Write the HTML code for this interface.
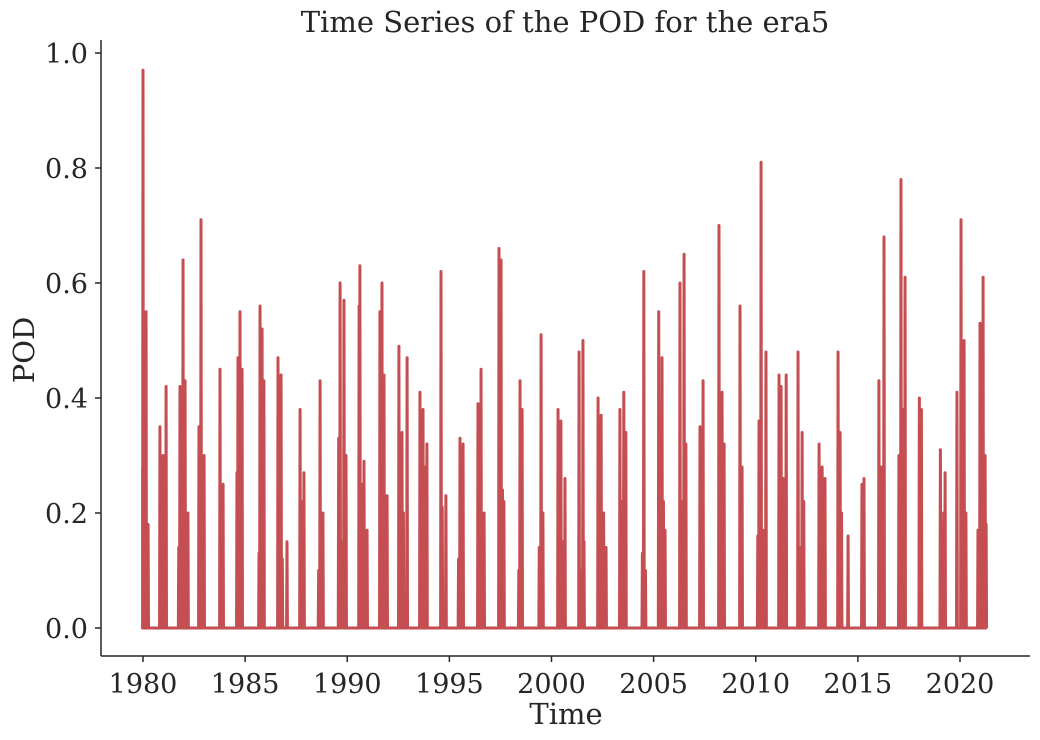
<!DOCTYPE html>
<html><head><meta charset="utf-8"><style>
body{margin:0;background:#fff;}
svg{display:block;font-family:"DejaVu Serif","Liberation Serif",serif;}
</style></head><body>
<svg id="chart" width="1040" height="740" viewBox="0 0 1040 740">
<rect width="1040" height="740" fill="#fff"/>
<text x="565" y="32" text-anchor="middle" font-size="29" fill="#262626">Time Series of the POD for the era5</text>
<g id="xticks"></g>
<g id="yticks"></g>
<text x="566" y="724" text-anchor="middle" font-size="29" fill="#262626">Time</text>
<text transform="translate(34,350) rotate(-90)" text-anchor="middle" font-size="29" fill="#262626">POD</text>
<path id="series" fill="none" stroke="#c44e52" stroke-width="3" stroke-linejoin="round"/>
<line x1="101" y1="40" x2="101" y2="656" stroke="#262626" stroke-width="1.5"/>
<line x1="101" y1="656" x2="1030" y2="656" stroke="#262626" stroke-width="1.5"/>
</svg>
<script>
const xTickYears=[1980,1985,1990,1995,2000,2005,2010,2015,2020];
const yTickValues=[0.0,0.2,0.4,0.6,0.8,1.0];
const spikeTimes=[1980.00,1980.15,1980.83,1980.98,1981.13,1981.81,1981.96,1982.06,1982.20,1982.74,1982.84,1982.99,1983.77,1983.92,1984.65,1984.75,1984.85,1985.73,1985.83,1985.92,1986.61,1986.76,1987.05,1987.69,1987.88,1988.67,1988.81,1989.65,1989.84,1989.94,1990.58,1990.62,1990.82,1990.97,1991.60,1991.70,1991.80,1991.95,1992.53,1992.68,1992.93,1993.56,1993.71,1993.90,1994.59,1994.83,1995.52,1995.67,1996.40,1996.55,1996.70,1997.43,1997.53,1997.67,1998.46,1998.56,1999.49,1999.58,2000.32,2000.46,2000.66,2001.35,2001.54,2001.59,2002.28,2002.43,2002.67,2003.35,2003.54,2003.64,2004.52,2005.25,2005.41,2005.56,2006.29,2006.49,2006.58,2007.27,2007.42,2008.20,2008.35,2008.45,2009.23,2009.33,2010.16,2010.26,2010.50,2011.14,2011.24,2011.49,2012.07,2012.27,2013.10,2013.25,2013.39,2014.03,2014.13,2014.52,2015.20,2015.30,2016.03,2016.17,2016.28,2017.01,2017.11,2017.21,2017.31,2018.01,2018.11,2019.04,2019.27,2019.85,2020.05,2020.20,2020.29,2020.88,2020.98,2021.13,2021.23,2021.33];
const spikeValues=[0.97,0.55,0.35,0.30,0.42,0.42,0.64,0.43,0.20,0.35,0.71,0.30,0.45,0.25,0.47,0.55,0.45,0.56,0.52,0.43,0.47,0.44,0.15,0.38,0.27,0.43,0.20,0.60,0.57,0.30,0.56,0.63,0.29,0.17,0.55,0.60,0.44,0.23,0.49,0.34,0.47,0.41,0.38,0.32,0.62,0.23,0.33,0.32,0.39,0.45,0.20,0.66,0.64,0.22,0.43,0.38,0.51,0.20,0.38,0.36,0.26,0.48,0.50,0.15,0.40,0.37,0.14,0.38,0.41,0.34,0.62,0.55,0.47,0.17,0.60,0.65,0.32,0.35,0.43,0.70,0.41,0.32,0.56,0.28,0.36,0.81,0.48,0.44,0.42,0.44,0.48,0.34,0.32,0.28,0.26,0.48,0.34,0.16,0.25,0.26,0.43,0.28,0.68,0.30,0.78,0.38,0.61,0.40,0.38,0.31,0.27,0.41,0.71,0.50,0.20,0.17,0.53,0.61,0.30];
const minorTimes=[1980.05,1980.25,1980.90,1981.05,1981.75,1981.88,1982.02,1982.80,1982.93,1983.85,1984.60,1984.70,1984.80,1985.68,1985.78,1986.68,1986.82,1987.75,1988.60,1988.75,1989.58,1989.75,1990.70,1991.65,1991.88,1992.60,1992.75,1993.63,1993.80,1994.65,1995.45,1995.60,1996.47,1996.62,1997.48,1997.60,1998.40,1998.50,1999.40,1999.53,2000.40,2000.55,2001.42,2002.35,2002.55,2003.45,2004.45,2004.60,2005.32,2005.48,2006.35,2006.42,2007.35,2008.25,2008.40,2009.28,2010.10,2010.35,2011.20,2011.35,2012.15,2012.35,2013.18,2013.33,2014.08,2014.20,2015.25,2016.10,2016.22,2017.06,2017.16,2017.26,2018.06,2019.10,2019.20,2020.10,2020.25,2021.05,2021.18,2021.28];
const minorValues=[0.29,0.18,0.13,0.22,0.14,0.32,0.25,0.26,0.18,0.12,0.27,0.20,0.25,0.13,0.25,0.20,0.12,0.22,0.10,0.14,0.33,0.15,0.25,0.14,0.20,0.28,0.20,0.15,0.28,0.21,0.12,0.22,0.25,0.15,0.08,0.24,0.10,0.22,0.14,0.15,0.30,0.15,0.10,0.10,0.20,0.22,0.13,0.10,0.10,0.22,0.22,0.16,0.30,0.15,0.27,0.14,0.16,0.17,0.22,0.26,0.14,0.22,0.22,0.13,0.14,0.20,0.10,0.18,0.10,0.27,0.10,0.23,0.16,0.13,0.20,0.28,0.12,0.18,0.15,0.18];
const xScale=t=>143+(t-1980)*20.425;
const yScale=v=>628-v*575;
const NS="http://www.w3.org/2000/svg";
const xg=document.getElementById('xticks'),yg=document.getElementById('yticks');
xTickYears.forEach(y=>{
 const x=xScale(y);
 const l=document.createElementNS(NS,'line');
 l.setAttribute('x1',x);l.setAttribute('x2',x);l.setAttribute('y1',656);l.setAttribute('y2',662);
 l.setAttribute('stroke','#262626');l.setAttribute('stroke-width','1.5');
 
 
 xg.appendChild(l);
 const t=document.createElementNS(NS,'text');
 t.setAttribute('x',x);t.setAttribute('y',693);t.setAttribute('text-anchor','middle');
 t.setAttribute('font-size','27');t.setAttribute('fill','#262626');t.textContent=y;
 
 
 xg.appendChild(t);
});
yTickValues.forEach(v=>{
 const y=yScale(v);
 const l=document.createElementNS(NS,'line');
 l.setAttribute('x1',95);l.setAttribute('x2',101);l.setAttribute('y1',y);l.setAttribute('y2',y);
 l.setAttribute('stroke','#262626');l.setAttribute('stroke-width','1.5');
 
 
 yg.appendChild(l);
 const t=document.createElementNS(NS,'text');
 t.setAttribute('x',88);t.setAttribute('y',y+10);t.setAttribute('text-anchor','end');
 t.setAttribute('font-size','27');t.setAttribute('fill','#262626');t.textContent=v.toFixed(1);
 
 
 yg.appendChild(t);
});
const pts=[];
spikeTimes.forEach((t,i)=>pts.push([t,spikeValues[i]]));
minorTimes.forEach((t,i)=>pts.push([t,minorValues[i]]));
pts.sort((a,b)=>a[0]-b[0]);
let d='M'+xScale(1979.98)+','+yScale(0.28);
pts.forEach(p=>{
 d+=' L'+xScale(p[0]-0.02)+','+yScale(0)+' L'+xScale(p[0])+','+yScale(p[1])+' L'+xScale(p[0]+0.02)+','+yScale(0);
});
d+=' L'+xScale(2021.9)+','+yScale(0);
document.getElementById('series').setAttribute('d',d);
</script>
</body></html>
